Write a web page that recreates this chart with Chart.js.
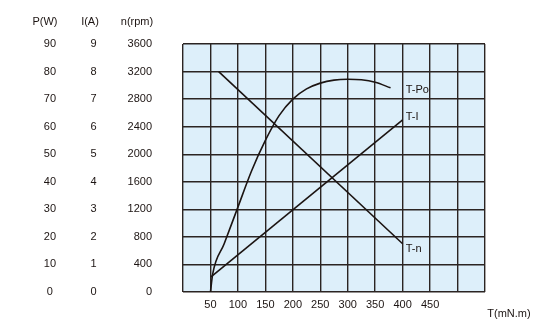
<!DOCTYPE html>
<html><head><meta charset="utf-8">
<script src="https://cdn.jsdelivr.net/npm/chart.js@4/dist/chart.umd.min.js"></script>
<style>html,body{margin:0;padding:0;background:#fff}#wrap{width:533px;height:321px;position:relative}canvas{display:block}</style>
</head><body><div id="wrap"><canvas id="c" width="533" height="321"></canvas></div>
<script>
// ---- data ----
const torqueTicks = [0, 50, 100, 150, 200, 250, 300, 350, 400, 450, 500, 550];
const torqueTickLabels = ['', '50', '100', '150', '200', '250', '300', '350', '400', '450', '', ''];
const powerTicks = [0, 10, 20, 30, 40, 50, 60, 70, 80, 90];
const currentTicks = [0, 1, 2, 3, 4, 5, 6, 7, 8, 9];
const speedTicks = [0, 400, 800, 1200, 1600, 2000, 2400, 2800, 3200, 3600];
const axisTitles = ['P(W)', 'I(A)', 'n(rpm)'];
const xTitle = 'T(mN.m)';
const seriesNames = ['T-Po', 'T-I', 'T-n'];

const poTorque = [50, 54, 75, 100, 125, 150, 175, 200, 225, 250, 275, 300, 325, 350, 378];
const poPower  = [0, 6.5, 17.5, 30.8, 44, 55, 64, 70, 73.7, 75.8, 76.9, 77.2, 77, 76.1, 74.1];
const iTorque  = [51, 400];
const iCurrent = [0.55, 6.25];
const nTorque  = [65, 400];
const nSpeed   = [3200, 700];

// ---- styles ----
const FONT = "'Liberation Sans', Arial, sans-serif";
const FSIZE = 11;
const INK = '#1c1412';
const GRID = '#2b2422';
const PLOT_BG = '#ddeffa';

const pts = (xs, ys) => xs.map((x, i) => ({x, y: ys[i]}));

const decor = {
  id: 'decor',
  beforeDraw(chart) {
    const a = chart.chartArea, ctx = chart.ctx;
    ctx.save();
    ctx.fillStyle = PLOT_BG;
    ctx.fillRect(a.left, a.top, a.right - a.left, a.bottom - a.top);
    ctx.restore();
  },
  afterDraw(chart) {
    const ctx = chart.ctx, a = chart.chartArea, s = chart.scales;
    ctx.save();
    ctx.fillStyle = INK;
    ctx.font = FSIZE + 'px ' + FONT;
    ctx.textBaseline = 'middle';
    ctx.textAlign = 'center';
    const hy = a.top - 22;
    ctx.fillText(axisTitles[0], s.yP.right - 25, hy);
    ctx.fillText(axisTitles[1], s.yI.right - 20, hy);
    ctx.fillText(axisTitles[2], s.yN.right - 46, hy);
    ctx.fillText(xTitle, s.x.right + 24, a.bottom + 22);
    ctx.textAlign = 'left';
    const lx = s.x.getPixelForValue(400) + 3;
    const offs = [2.5, -2.5, 5];
    chart.data.datasets.forEach((ds, i) => {
      const meta = chart.getDatasetMeta(i);
      const last = meta.data[meta.data.length - 1];
      ctx.fillText(seriesNames[i], lx, last.y + offs[i]);
    });
    ctx.restore();
  }
};

const yAxis = (ticksArr, width, weight, extra) => Object.assign({
  type: 'linear', position: 'left', weight,
  min: ticksArr[0], max: ticksArr[ticksArr.length - 1],
  afterBuildTicks: sc => { sc.ticks = ticksArr.map(v => ({value: v})); },
  afterFit: sc => { sc.width = width; sc.paddingTop = 7; sc.paddingBottom = 7; },
  border: {display: false},
  grid: {display: false, drawTicks: false},
}, extra);

const tickFont = {family: FONT, size: FSIZE};

new Chart(document.getElementById('c'), {
  type: 'line',
  data: {
    datasets: [
      {label: seriesNames[0], data: pts(poTorque, poPower), yAxisID: 'yP', borderColor: INK, borderWidth: 1.6, pointRadius: 0, cubicInterpolationMode: 'monotone', fill: false},
      {label: seriesNames[1], data: pts(iTorque, iCurrent), yAxisID: 'yI', borderColor: INK, borderWidth: 1.6, pointRadius: 0, fill: false},
      {label: seriesNames[2], data: pts(nTorque, nSpeed), yAxisID: 'yN', borderColor: INK, borderWidth: 1.6, pointRadius: 0, fill: false}
    ]
  },
  options: {
    responsive: false, animation: false, devicePixelRatio: 1,
    layout: {padding: {top: 44, right: 48, bottom: 0, left: 0}},
    plugins: {legend: {display: false}, tooltip: {enabled: false}},
    scales: {
      x: {
        type: 'linear', min: torqueTicks[0], max: torqueTicks[torqueTicks.length - 1],
        afterBuildTicks: sc => { sc.ticks = torqueTicks.map(v => ({value: v})); },
        afterFit: sc => { sc.height = 29; },
        border: {display: false},
        grid: {color: GRID, lineWidth: 1.4, drawTicks: false},
        ticks: {autoSkip: false, maxRotation: 0, padding: 6, color: INK, font: tickFont,
          callback: (v, i) => torqueTickLabels[i]}
      },
      yP: yAxis(powerTicks, 70, 3, {
        grid: {display: true, color: GRID, lineWidth: 1.4, drawTicks: false},
        ticks: {crossAlign: 'center', padding: 14, color: INK, font: tickFont, callback: v => String(v)}
      }),
      yI: yAxis(currentTicks, 40, 2, {
        ticks: {crossAlign: 'center', padding: 13.5, color: INK, font: tickFont, callback: v => String(v)}
      }),
      yN: yAxis(speedTicks, 73, 1, {
        ticks: {crossAlign: 'near', padding: 31, color: INK, font: tickFont, callback: v => String(v)}
      })
    }
  },
  plugins: [decor]
});
</script>
</body></html>
